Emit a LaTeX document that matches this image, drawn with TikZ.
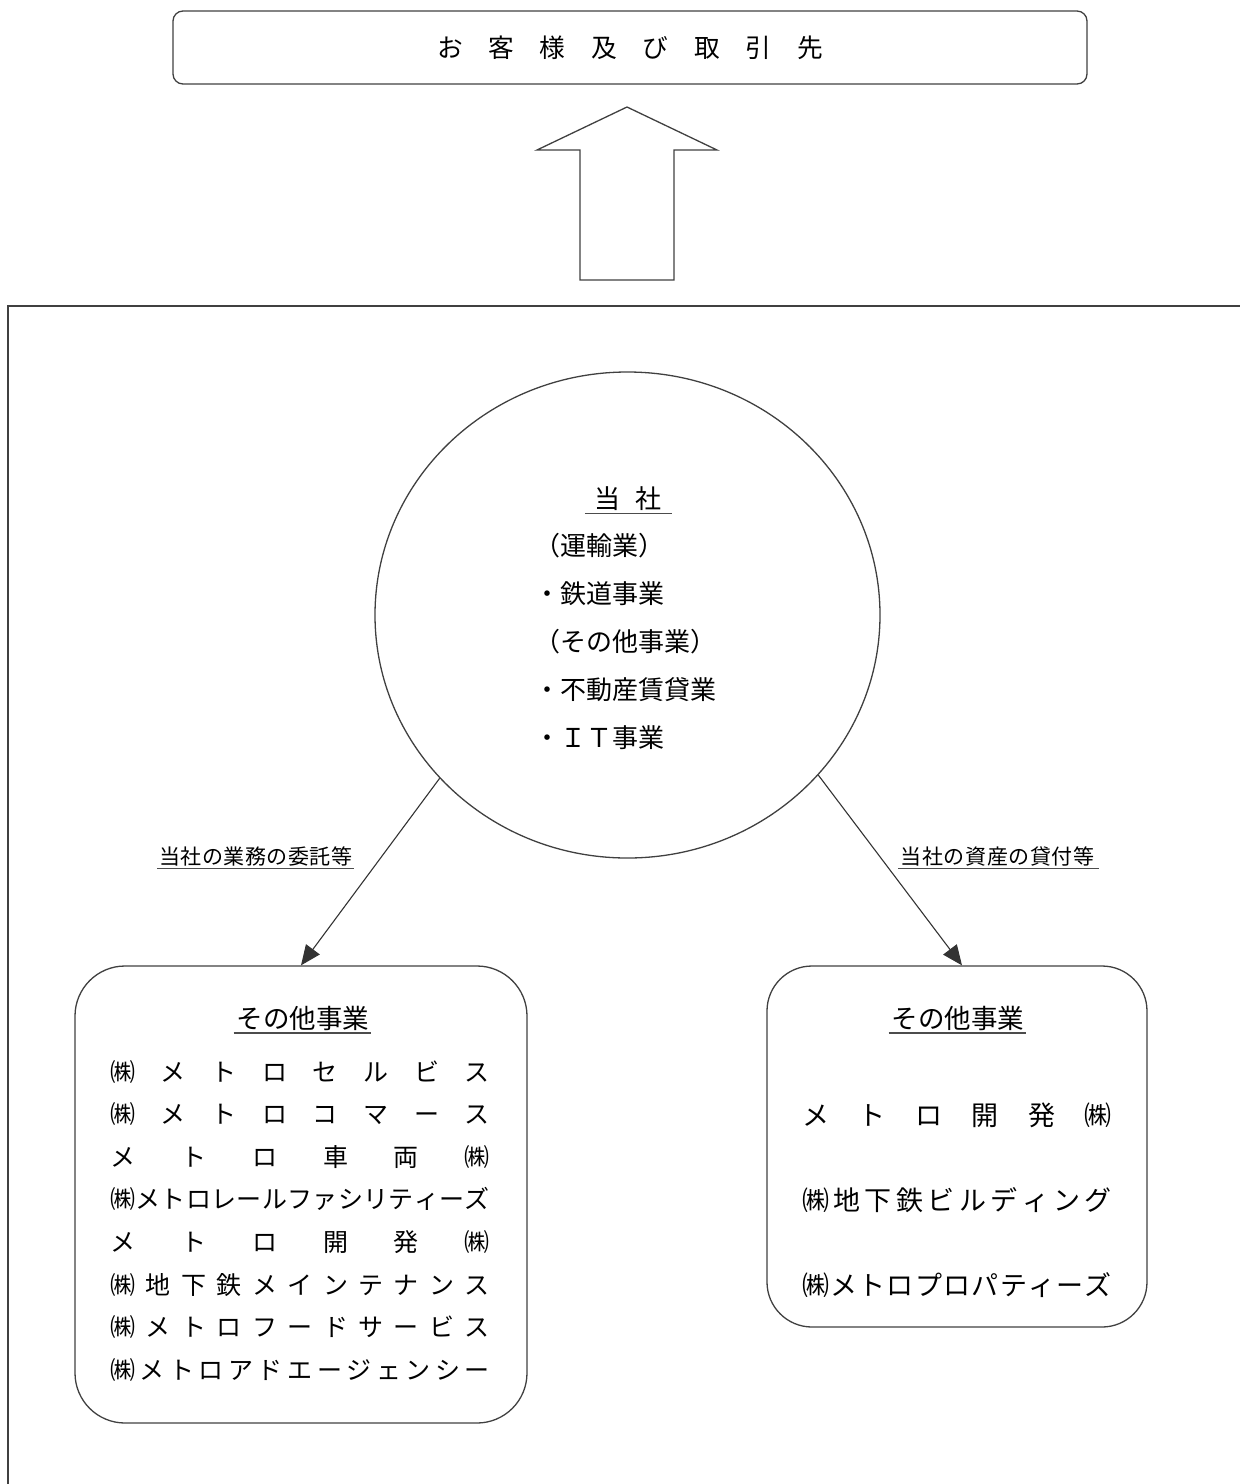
\documentclass[tikz,border=0pt]{standalone}
\usepackage{fontspec}
\newfontfamily\jp{Noto Sans CJK JP}
\usetikzlibrary{shapes.geometric,arrows.meta}
\makeatletter
\def\spr@first#1{#1\spr@rest}
\def\spr@rest#1{\ifx\spr@end#1\else\hfil#1\expandafter\spr@rest\fi}
\def\spr@end{\spr@end}
\newcommand\spreadto[2]{\makebox[#1][s]{\spr@first#2\spr@end}}
\makeatother
\newcommand\fsz[1]{\fontsize{#1}{#1}\selectfont}
\newcommand\jstrut{\rule[-0.12em]{0pt}{1em}}
\tikzset{
  ln/.style={draw=black!75, line width=1.3pt},
  jt/.style={inner sep=0pt, text=black},
  conn/.style={draw=black!80, line width=1.1pt, -{Triangle[length=20pt,width=17pt]}},
  uline/.style={draw=black!70, line width=1.3pt},
}
\begin{document}
\begin{tikzpicture}[x=1pt,y=-1pt]
\useasboundingbox (0,0) rectangle (1240,1484);
% frame
\draw[ln] (1240,306) -- (8,306) -- (8,1484);
% top box
\node[ln, rounded corners=10pt, minimum width=914pt, minimum height=73pt, inner sep=0pt] (top) at (630,47.5) {};
\node[jt, font=\jp\fsz{25.7pt}] (cust) at (630,47.5) {\jstrut\spreadto{386pt}{お客様及び取引先}};
% up arrow
\draw[ln, line join=miter] (580,280) -- (580,150) -- (537,150) -- (627,107) -- (717,150) -- (674,150) -- (674,280) -- cycle;
% company ellipse
\node[ln, ellipse, minimum width=505pt, minimum height=486pt, inner sep=0pt] (co) at (627.5,615) {};
\node[jt, font=\jp\fsz{26pt}] (cot) at (628,499) {\jstrut\spreadto{68pt}{当社}};
\draw[uline] ([xshift=-9pt,yshift=-1.5pt]cot.south west) -- ([xshift=10pt,yshift=-1.5pt]cot.south east);
\node[jt, font=\jp\fsz{26pt}, anchor=west] (c1) at (534,546) {\jstrut（運輸業）};
\node[jt, font=\jp\fsz{26pt}, anchor=west] (c2) at (534,594) {\jstrut・鉄道事業};
\node[jt, font=\jp\fsz{26pt}, anchor=west] (c3) at (534,642) {\jstrut（その他事業）};
\node[jt, font=\jp\fsz{26pt}, anchor=west] (c4) at (534,690) {\jstrut・不動産賃貸業};
\node[jt, font=\jp\fsz{26pt}, anchor=west] (c5) at (534,738) {\jstrut・ＩＴ事業};
% labels
\node[jt, font=\jp\fsz{21pt}] (ll) at (256,857) {\jstrut\spreadto{193pt}{当社の業務の委託等}};
\draw[uline] ([xshift=-2pt,yshift=-1pt]ll.south west) -- ([xshift=1pt,yshift=-1pt]ll.south east);
\node[jt, font=\jp\fsz{21pt}] (rl) at (997.5,857) {\jstrut\spreadto{194pt}{当社の資産の貸付等}};
\draw[uline] ([xshift=-2pt,yshift=-1pt]rl.south west) -- ([xshift=4pt,yshift=-1pt]rl.south east);
% boxes
\node[ln, rounded corners=50pt, minimum width=452pt, minimum height=457pt, inner sep=0pt] (lbox) at (301,1194.5) {};
\node[ln, rounded corners=45pt, minimum width=380pt, minimum height=361pt, inner sep=0pt] (rbox) at (957,1146.5) {};
% connectors
\draw[conn] (co.221) -- (lbox.north);
\draw[conn] (co.320) -- ([xshift=5pt]rbox.north);
% left box text
\node[jt, font=\jp\fsz{26.5pt}] (lh) at (303,1018) {\jstrut その他事業};
\draw[uline] ([xshift=-3pt,yshift=-1.5pt]lh.south west) -- ([xshift=2pt,yshift=-1.5pt]lh.south east);
\node[jt, font=\jp\fsz{25pt}] (l1) at (300,1071.5) {\jstrut\spreadto{380pt}{㈱メトロセルビス}};
\node[jt, font=\jp\fsz{25pt}] (l2) at (300,1114.2) {\jstrut\spreadto{380pt}{㈱メトロコマース}};
\node[jt, font=\jp\fsz{25pt}] (l3) at (300,1156.8) {\jstrut\spreadto{380pt}{メトロ車両㈱}};
\node[jt, font=\jp\fsz{25pt}] (l4) at (300,1199.4) {\jstrut\spreadto{380pt}{㈱メトロレールファシリティーズ}};
\node[jt, font=\jp\fsz{25pt}] (l5) at (300,1242) {\jstrut\spreadto{380pt}{メトロ開発㈱}};
\node[jt, font=\jp\fsz{25pt}] (l6) at (300,1284.6) {\jstrut\spreadto{380pt}{㈱地下鉄メインテナンス}};
\node[jt, font=\jp\fsz{25pt}] (l7) at (300,1327.2) {\jstrut\spreadto{380pt}{㈱メトロフードサービス}};
\node[jt, font=\jp\fsz{25pt}] (l8) at (300,1369.8) {\jstrut\spreadto{380pt}{㈱メトロアドエージェンシー}};
% right box text
\node[jt, font=\jp\fsz{26.5pt}] (rh) at (958,1018) {\jstrut その他事業};
\draw[uline] ([xshift=-3pt,yshift=-1.5pt]rh.south west) -- ([xshift=2pt,yshift=-1.5pt]rh.south east);
\node[jt, font=\jp\fsz{27pt}] (r1) at (957,1115) {\jstrut\spreadto{310pt}{メトロ開発㈱}};
\node[jt, font=\jp\fsz{27pt}] (r2) at (957,1200) {\jstrut\spreadto{310pt}{㈱地下鉄ビルディング}};
\node[jt, font=\jp\fsz{27pt}] (r3) at (957,1285) {\jstrut\spreadto{310pt}{㈱メトロプロパティーズ}};
\end{tikzpicture}
\end{document}
